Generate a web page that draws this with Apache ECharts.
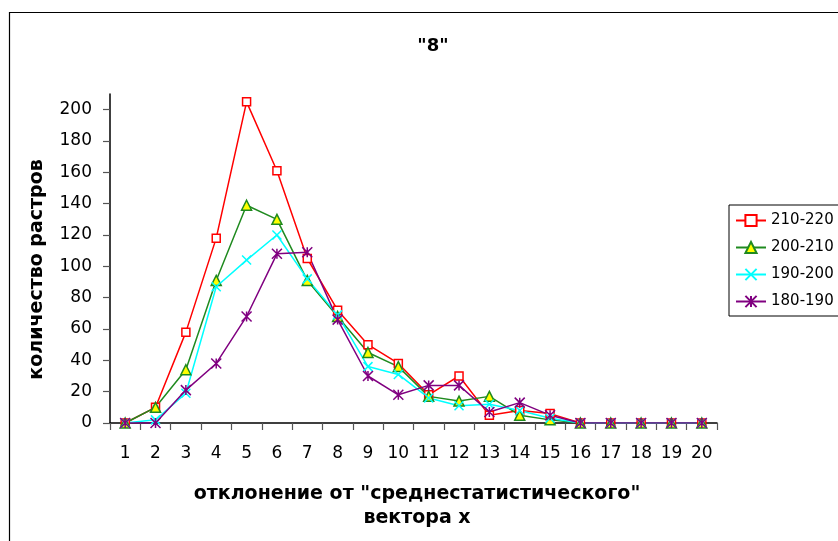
<!DOCTYPE html>
<html>
<head>
<meta charset="utf-8">
<script src="https://cdn.jsdelivr.net/npm/echarts@6/dist/echarts.min.js"></script>
<style>
  html, body { margin: 0; padding: 0; background: #fff; }
  #chart { width: 838px; height: 541px; }
</style>
</head>
<body>
<div id="chart"></div>
<script>
// Deviation classes 1..20 on the x axis
const categories = ['1','2','3','4','5','6','7','8','9','10','11','12','13','14','15','16','17','18','19','20'];

// Raster counts per brightness band
const band210_220 = [0, 10, 58, 118, 205, 161, 105, 72, 50, 38, 18, 30, 5, 8, 6, 0, 0, 0, 0, 0];
const band200_210 = [0, 10, 34, 91, 139, 130, 91, 68, 45, 36, 17, 14, 17, 5, 2, 0, 0, 0, 0, 0];
const band190_200 = [0, 2, 19, 87, 104, 120, 92, 69, 36, 31, 16, 11, 12, 8, 3, 0, 0, 0, 0, 0];
const band180_190 = [0, 0, 21, 38, 68, 108, 109, 66, 30, 18, 24, 24, 7, 13, 5, 0, 0, 0, 0, 0];

const seriesNames = ['210-220', '200-210', '190-200', '180-190'];
const yTickValues = [0, 20, 40, 60, 80, 100, 120, 140, 160, 180, 200];

const FONT = '"DejaVu Sans", "Liberation Sans", Arial, sans-serif';

const chart = echarts.init(document.getElementById('chart'), null, { renderer: 'canvas' });

const crossPath = 'path://M0,0L10,10M10,0L0,10';
const starPath = 'path://M0,0L10,10M10,0L0,10M5,0L5,10';

chart.setOption({
  backgroundColor: '#ffffff',
  animation: false,
  title: {
    text: '"8"',
    left: 428,
    top: 32,
    textAlign: 'center',
    textStyle: { fontFamily: FONT, fontSize: 18, fontWeight: 'bold', color: '#000' }
  },
  graphic: [{
    type: 'rect',
    left: 7,
    top: 10,
    shape: { width: 900, height: 600 },
    style: { fill: 'none', stroke: '#000', lineWidth: 1.2 },
    silent: true,
    z: -1
  }],
  legend: {
    orient: 'vertical',
    left: 729,
    top: 205,
    padding: [8, 6, 7, 6],
    itemWidth: 30,
    itemHeight: 14,
    itemGap: 12,
    borderColor: '#000',
    borderWidth: 1,
    backgroundColor: '#fff',
    textStyle: { fontFamily: FONT, fontSize: 15, color: '#000' },
    data: seriesNames
  },
  grid: {
    left: 110,
    right: 121,
    top: 94,
    bottom: 118,
    containLabel: false
  },
  xAxis: {
    type: 'category',
    data: categories,
    boundaryGap: true,
    name: 'отклонение от "среднестатистического"\nвектора x',
    nameLocation: 'middle',
    nameGap: 59,
    nameTextStyle: {
      fontFamily: FONT, fontSize: 19, fontWeight: 'bold', color: '#000',
      lineHeight: 24, padding: [0, 0, 0, 7]
    },
    axisLine: { lineStyle: { color: '#000', width: 1.5 } },
    axisTick: { show: true, alignWithLabel: false, length: 7, lineStyle: { color: '#555', width: 1.2 } },
    axisLabel: { fontFamily: FONT, fontSize: 17, color: '#000', margin: 22, interval: 0 },
    splitLine: { show: false }
  },
  yAxis: {
    type: 'value',
    min: 0,
    max: 210,
    interval: 20,
    name: 'количество растров',
    nameLocation: 'middle',
    nameGap: 63,
    nameRotate: 90,
    nameTextStyle: {
      fontFamily: FONT, fontSize: 19, fontWeight: 'bold', color: '#000',
      padding: [0, 22, 0, 0]
    },
    axisLine: { show: true, lineStyle: { color: '#000', width: 1.5 } },
    axisTick: { show: true, length: 7, customValues: yTickValues, lineStyle: { color: '#555', width: 1.2 } },
    axisLabel: { fontFamily: FONT, fontSize: 17, color: '#000', margin: 18, customValues: yTickValues },
    splitLine: { show: false }
  },
  series: [
    {
      name: seriesNames[0],
      type: 'line',
      data: band210_220,
      symbol: 'rect',
      symbolSize: 8,
      showAllSymbol: true,
      lineStyle: { color: '#ff0000', width: 1.5 },
      itemStyle: { color: '#ffffff', borderColor: '#ff0000', borderWidth: 1.5 }
    },
    {
      name: seriesNames[1],
      type: 'line',
      data: band200_210,
      symbol: 'triangle',
      symbolSize: 10,
      showAllSymbol: true,
      lineStyle: { color: '#1f8a1f', width: 1.5 },
      itemStyle: { color: '#ffff00', borderColor: '#1f8a1f', borderWidth: 1.5 }
    },
    {
      name: seriesNames[2],
      type: 'line',
      data: band190_200,
      symbol: crossPath,
      symbolSize: 9,
      showAllSymbol: true,
      lineStyle: { color: '#00ffff', width: 1.5 },
      itemStyle: { color: '#00ffff', borderColor: '#00ffff', borderWidth: 1.5 }
    },
    {
      name: seriesNames[3],
      type: 'line',
      data: band180_190,
      symbol: starPath,
      symbolSize: 10,
      showAllSymbol: true,
      lineStyle: { color: '#800080', width: 1.5 },
      itemStyle: { color: '#800080', borderColor: '#800080', borderWidth: 1.5 }
    }
  ]
});
</script>
</body>
</html>
